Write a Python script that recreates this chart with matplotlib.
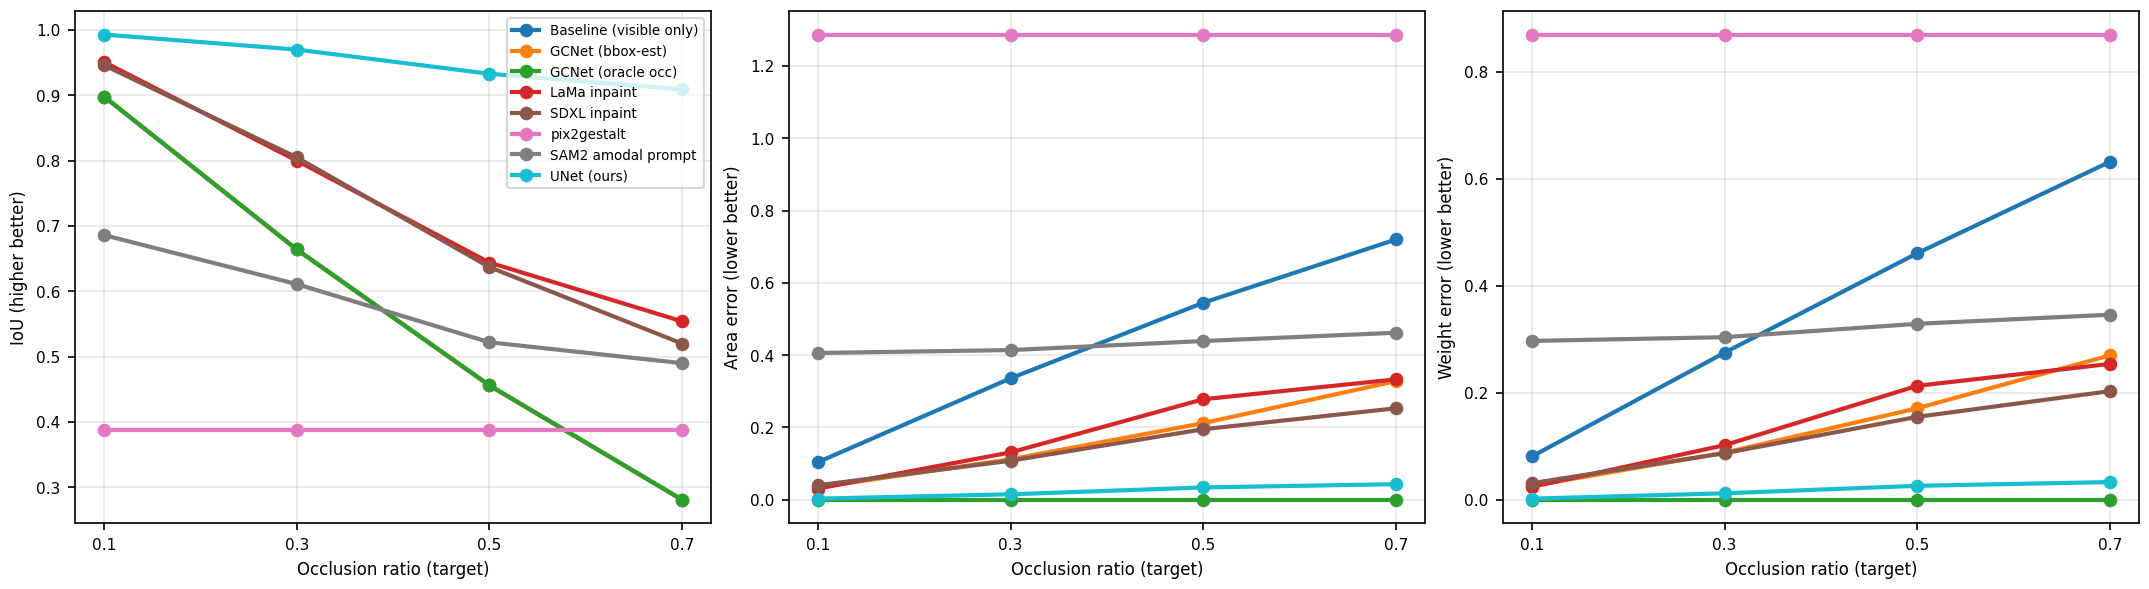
import numpy as np
import matplotlib
matplotlib.use("Agg")
import matplotlib.pyplot as plt

# occlusion ratios on the x axis
ratios = [0.1, 0.3, 0.5, 0.7]

methods = [
    "Baseline (visible only)",
    "GCNet (bbox-est)",
    "GCNet (oracle occ)",
    "LaMa inpaint",
    "SDXL inpaint",
    "pix2gestalt",
    "SAM2 amodal prompt",
    "UNet (ours)",
]
COLOR = ["#1f77b4", "#ff7f0e", "#2ca02c", "#d62728",
         "#8c564b", "#e377c2", "#7f7f7f", "#17becf"]

# IoU (higher better) -- baseline / bbox-est lie under the oracle line
iou_baseline = [0.898, 0.664, 0.456, 0.281]
iou_bbox = [0.898, 0.664, 0.456, 0.281]
iou_oracle = [0.898, 0.664, 0.456, 0.281]
iou_lama = [0.951, 0.800, 0.644, 0.554]
iou_sdxl = [0.946, 0.805, 0.637, 0.520]
iou_pix2 = [0.388, 0.388, 0.388, 0.388]
iou_sam2 = [0.686, 0.611, 0.522, 0.490]
iou_unet = [0.993, 0.970, 0.933, 0.909]

# Area error (lower better)
area_baseline = [0.104, 0.336, 0.545, 0.720]
area_bbox = [0.034, 0.112, 0.212, 0.328]
area_oracle = [0.0, 0.0, 0.0, 0.0]
area_lama = [0.031, 0.131, 0.278, 0.333]
area_sdxl = [0.040, 0.108, 0.195, 0.253]
area_pix2 = [1.287, 1.287, 1.287, 1.287]
area_sam2 = [0.406, 0.414, 0.439, 0.462]
area_unet = [0.003, 0.015, 0.034, 0.043]

# Weight error (lower better)
weight_baseline = [0.081, 0.275, 0.461, 0.632]
weight_bbox = [0.026, 0.088, 0.171, 0.270]
weight_oracle = [0.0, 0.0, 0.0, 0.0]
weight_lama = [0.024, 0.102, 0.213, 0.254]
weight_sdxl = [0.031, 0.087, 0.155, 0.203]
weight_pix2 = [0.870, 0.870, 0.870, 0.870]
weight_sam2 = [0.297, 0.304, 0.329, 0.346]
weight_unet = [0.002, 0.012, 0.026, 0.033]

panels = [
    ("IoU (higher better)", [iou_baseline, iou_bbox, iou_oracle, iou_lama,
                             iou_sdxl, iou_pix2, iou_sam2, iou_unet]),
    ("Area error (lower better)", [area_baseline, area_bbox, area_oracle, area_lama,
                                   area_sdxl, area_pix2, area_sam2, area_unet]),
    ("Weight error (lower better)", [weight_baseline, weight_bbox, weight_oracle, weight_lama,
                                     weight_sdxl, weight_pix2, weight_sam2, weight_unet]),
]

plt.rcParams.update({
    "font.size": 8, "axes.labelsize": 8,
    "xtick.labelsize": 7.4, "ytick.labelsize": 7.4,
    "legend.fontsize": 6.5,
})

fig, axes = plt.subplots(1, 3, figsize=(14.33, 3.93), dpi=150)
for i, (ylabel, series) in enumerate(panels):
    ax = axes[i]
    for k, (name, vals) in enumerate(zip(methods, series)):
        ax.plot(ratios, vals, marker="o", lw=2, ms=5.5, color=COLOR[k], label=name)
    ax.set_xticks(ratios)
    ax.set_xticklabels([str(r) for r in ratios])
    ax.set_xlabel("Occlusion ratio (target)")
    ax.set_ylabel(ylabel)
    ax.grid(alpha=0.3)
    if i == 0:
        ax.legend(loc="upper right")

fig.subplots_adjust(left=0.035, right=0.995, bottom=0.112, top=0.98, wspace=0.123)
fig.savefig("out.png", dpi=150)
